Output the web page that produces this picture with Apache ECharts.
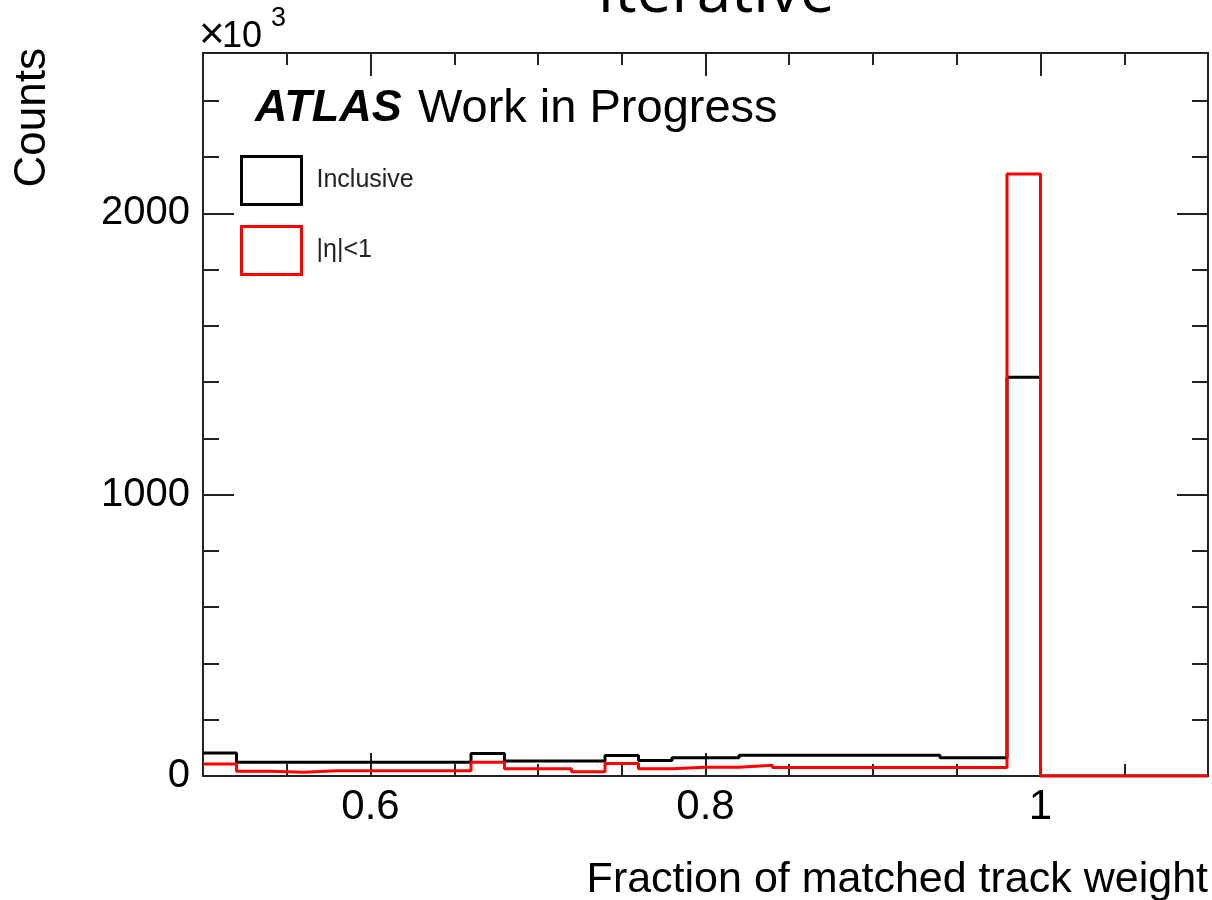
<!DOCTYPE html>
<html>
<head>
<meta charset="utf-8">
<script src="https://cdn.jsdelivr.net/npm/echarts@6/dist/echarts.min.js"></script>
<style>
  html, body { margin: 0; padding: 0; background: #ffffff; }
  #chart { width: 1212px; height: 900px; }
</style>
</head>
<body>
<div id="chart"></div>
<script>
// Bin edges (0.02 wide) of the matched-track-weight histogram
const binEdges = [0.50, 0.52, 0.54, 0.56, 0.58, 0.60, 0.62, 0.64, 0.66, 0.68,
                  0.70, 0.72, 0.74, 0.76, 0.78, 0.80, 0.82, 0.84, 0.86, 0.88,
                  0.90, 0.92, 0.94, 0.96, 0.98, 1.00, 1.02, 1.04, 1.06, 1.08, 1.10];

// Counts per bin, in units of 10^3
const inclusiveCounts = [82, 49, 49, 49, 49, 49, 49, 49, 80, 53,
                         53, 53, 73, 55, 65, 65, 74, 74, 74, 74,
                         74, 74, 65, 65, 1417, 0, 0, 0, 0, 0];
const centralCounts   = [43, 17, 13, 19, 19, 19, 19, 19, 49, 26,
                         26, 15, 44, 26, 31, 31, 38, 30, 30, 30,
                         30, 30, 30, 30, 2140, 0, 0, 0, 0, 0];

// Axis ticks and labels
const xLabelValues = [0.6, 0.8, 1.0];
const xMinorTickValues = [0.55, 0.6, 0.65, 0.7, 0.75, 0.8, 0.85, 0.9, 0.95, 1.0, 1.05];
const yLabelValues = [0, 1000, 2000];
const yMinorTickValues = [0, 200, 400, 600, 800, 1000, 1200, 1400, 1600, 1800, 2000, 2200, 2400];

const X_MIN = 0.5, X_MAX = 1.1, Y_MIN = 0, Y_MAX = 2570;
const FONT = '"Liberation Sans", Arial, Helvetica, sans-serif';
const FRAME = '#222222';

// Histogram outline: one point per lower bin edge, plus the closing edge
function stepData(counts) {
  return binEdges.map((e, i) => [e, counts[Math.min(i, counts.length - 1)]]);
}

function xAxis(position, tickValues, tickLen, withLabels) {
  return {
    type: 'value', min: X_MIN, max: X_MAX, position: position,
    axisLine: { show: false, onZero: false },
    axisTick: { show: true, inside: true, length: tickLen, customValues: tickValues,
                lineStyle: { color: FRAME, width: 2 } },
    axisLabel: withLabels ? {
      show: true, customValues: xLabelValues, margin: 10,
      fontFamily: FONT, fontSize: 42, color: '#000',
      formatter: (v) => String(Math.round(v * 10) / 10)
    } : { show: false },
    splitLine: { show: false }
  };
}

function yAxis(position, tickValues, tickLen, withLabels) {
  return {
    type: 'value', min: Y_MIN, max: Y_MAX, position: position,
    axisLine: { show: false, onZero: false },
    axisTick: { show: true, inside: true, length: tickLen, customValues: tickValues,
                lineStyle: { color: FRAME, width: 2 } },
    axisLabel: withLabels ? {
      show: true, customValues: yLabelValues, margin: 13,
      fontFamily: FONT, fontSize: 40, color: '#000',
      formatter: (v) => String(v)
    } : { show: false },
    splitLine: { show: false }
  };
}

const chart = echarts.init(document.getElementById('chart'), null, { renderer: 'canvas' });

chart.setOption({
  animation: false,
  backgroundColor: '#ffffff',
  grid: {
    left: 203, right: 4, top: 53, bottom: 124,
    show: true, borderColor: FRAME, borderWidth: 2, backgroundColor: 'transparent'
  },
  xAxis: [
    xAxis('bottom', xMinorTickValues, 12, true),
    xAxis('bottom', xLabelValues, 23, false),
    xAxis('top', xMinorTickValues, 12, false),
    xAxis('top', xLabelValues, 23, false)
  ],
  yAxis: [
    yAxis('left', yMinorTickValues, 16, true),
    yAxis('left', yLabelValues, 31, false),
    yAxis('right', yMinorTickValues, 16, false),
    yAxis('right', yLabelValues, 31, false)
  ],
  legend: {
    orient: 'vertical',
    left: 240, top: 155, padding: 0,
    itemWidth: 60, itemHeight: 48, itemGap: 19,
    icon: 'rect',
    selectedMode: false,
    textStyle: { fontFamily: FONT, fontSize: 25, color: '#222', padding: [0, 0, 0, 10] },
    data: [
      { name: 'Inclusive', itemStyle: { color: 'rgba(0,0,0,0)', borderColor: '#000000', borderWidth: 3 } },
      { name: '|η|<1', itemStyle: { color: 'rgba(0,0,0,0)', borderColor: '#ff0000', borderWidth: 3 } }
    ]
  },
  series: [
    {
      name: 'Inclusive', type: 'line', step: 'end',
      xAxisIndex: 0, yAxisIndex: 0,
      showSymbol: false, symbol: 'none',
      color: '#000000',
      lineStyle: { color: '#000000', width: 3 },
      data: stepData(inclusiveCounts)
    },
    {
      name: '|η|<1', type: 'line', step: 'end',
      xAxisIndex: 0, yAxisIndex: 0,
      showSymbol: false, symbol: 'none',
      color: '#ff0000',
      lineStyle: { color: '#ff0000', width: 3 },
      data: stepData(centralCounts)
    }
  ],
  graphic: [
    { type: 'text', x: 716, y: -6, style: {
        text: 'Iterative', fontFamily: '"Open Sans", sans-serif', fontSize: 62,
        fill: '#000', align: 'center', verticalAlign: 'middle' } },
    { type: 'text', x: 199, y: 36, style: {
        text: '×', fontFamily: FONT, fontSize: 44, fill: '#000',
        align: 'left', verticalAlign: 'middle' } },
    { type: 'text', x: 222, y: 37, style: {
        text: '10', fontFamily: FONT, fontSize: 36, fill: '#000',
        align: 'left', verticalAlign: 'middle' } },
    { type: 'text', x: 271, y: 19, style: {
        text: '3', fontFamily: FONT, fontSize: 27, fill: '#000',
        align: 'left', verticalAlign: 'middle' } },
    { type: 'text', x: 33, y: 48, rotation: Math.PI / 2, style: {
        text: 'Counts', fontFamily: FONT, fontSize: 44, fill: '#000',
        align: 'right', verticalAlign: 'middle' } },
    { type: 'text', x: 1208, y: 880, style: {
        text: 'Fraction of matched track weight', fontFamily: FONT, fontSize: 43, fill: '#000',
        align: 'right', verticalAlign: 'middle' } },
    { type: 'text', x: 255, y: 109, style: {
        text: 'ATLAS', fontFamily: FONT, fontSize: 45, fontWeight: 'bold', fontStyle: 'italic',
        fill: '#000', align: 'left', verticalAlign: 'middle' } },
    { type: 'text', x: 418, y: 109, style: {
        text: 'Work in Progress', fontFamily: FONT, fontSize: 47,
        fill: '#000', align: 'left', verticalAlign: 'middle' } }
  ]
});
</script>
</body>
</html>
